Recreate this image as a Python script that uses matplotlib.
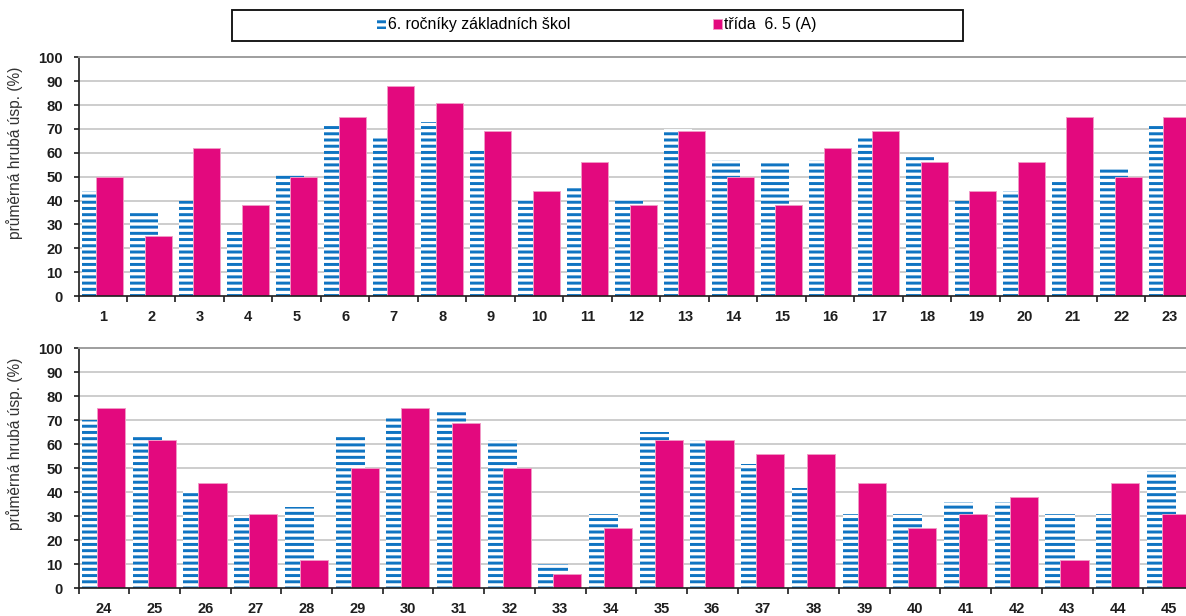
import matplotlib
matplotlib.use("Agg")
import matplotlib.pyplot as plt
from matplotlib.patches import Rectangle
import numpy as np

# ---- data ----
cats_top = [str(i) for i in range(1, 24)]
cats_bot = [str(i) for i in range(24, 46)]
blue_top = [44, 36, 40, 27, 51, 72, 67, 73, 62, 41, 46, 41, 70, 57, 56, 57, 66, 59, 40, 44, 49, 53, 72]
pink_top = [50, 25, 62, 38, 50, 75, 88, 81, 69, 44, 56, 38, 69, 50, 38, 62, 69, 56, 44, 56, 75, 50, 75]
blue_bot = [70, 63, 41, 30, 34, 63, 71, 74, 62, 10, 31, 65, 62, 52, 42, 31, 31, 36, 36, 31, 31, 49]
pink_bot = [75, 62, 44, 31, 12, 50, 75, 69, 50, 6, 25, 62, 62, 56, 56, 44, 25, 31, 38, 12, 44, 31]
label_blue = "6. ročníky základních škol"
label_pink = "třída  6. 5 (A)"
ylabel = "průměrná hrubá úsp. (%)"
yticks = list(range(0, 101, 10))

BLUE = "#0F74C2"
PINK = "#E3097E"
DPI = 112

plt.rcParams['font.family'] = ['Liberation Sans', 'DejaVu Sans']
plt.rcParams['hatch.color'] = BLUE
plt.rcParams['hatch.linewidth'] = 1.9

fig = plt.figure(figsize=(1186 / DPI, 616 / DPI), dpi=DPI)

left = 78.5 / 1186
width = (1194 - 78.5) / 1186
ax_top = fig.add_axes([left, (616 - 296) / 616, width, (296 - 57.3) / 616])
ax_bot = fig.add_axes([left, (616 - 588.3) / 616, width, (588.3 - 348.3) / 616])


def draw(ax, cats, blue, pink):
    x = np.arange(len(cats))
    hb = ax.bar(x - 0.143, blue, width=0.575, color='white', linewidth=0,
                hatch='---', zorder=2, label=label_blue)
    hp = ax.bar(x + 0.142, pink, width=0.555, color=PINK, edgecolor='#F19AC6',
                linewidth=0.6, zorder=3, label=label_pink)
    ax.set_xlim(-0.5, len(cats) - 0.5)
    ax.set_ylim(0, 100)
    ax.set_yticks(yticks)
    ax.set_yticklabels([str(v) for v in yticks], fontsize=9.6, fontweight='bold', color='#1E1E1E')
    ax.set_xticks(x)
    ax.set_xticklabels(cats, fontsize=9.4, fontweight='bold', color='#1E1E1E')
    ax.set_xticks(np.arange(len(cats) + 1) - 0.5, minor=True)
    ax.tick_params(axis='x', which='major', length=0, pad=9)
    ax.tick_params(axis='x', which='minor', length=4, width=1.1, color='#222222', direction='out')
    ax.tick_params(axis='y', which='major', length=3.5, width=1.1, color='#222222', pad=6.5, direction='out')
    for v in yticks[1:-1]:
        ax.axhline(v, color='#C6C6C6', linewidth=1.1, zorder=1)
    ax.spines['right'].set_visible(False)
    ax.spines['top'].set_color('#9A9A9A')
    ax.spines['top'].set_linewidth(1.2)
    ax.spines['left'].set_color('#222222')
    ax.spines['left'].set_linewidth(1.1)
    ax.spines['bottom'].set_color('#222222')
    ax.spines['bottom'].set_linewidth(1.1)
    ax.spines['bottom'].set_zorder(5)
    ax.set_ylabel(ylabel, fontsize=10, color='#333333')
    return hb, hp


hb, hp = draw(ax_top, cats_top, blue_top, pink_top)
draw(ax_bot, cats_bot, blue_bot, pink_bot)
for ax in (ax_top, ax_bot):
    ax.yaxis.set_label_coords(-0.0495, 0.6)

# legend frame
fig.patches.append(Rectangle((232 / 1186, (616 - 41) / 616), 731 / 1186, 31 / 616,
                             transform=fig.transFigure, fill=False,
                             edgecolor='#111111', linewidth=1.2))
fig.legend([hb, hp], [label_blue, label_pink], loc='center',
           bbox_to_anchor=(597 / 1186, 1 - 25 / 616), ncol=2, frameon=False,
           fontsize=10.2, handlelength=0.55, handleheight=0.55,
           handletextpad=0.15, columnspacing=9.0, borderpad=0)

fig.savefig("out.png", dpi=DPI)
